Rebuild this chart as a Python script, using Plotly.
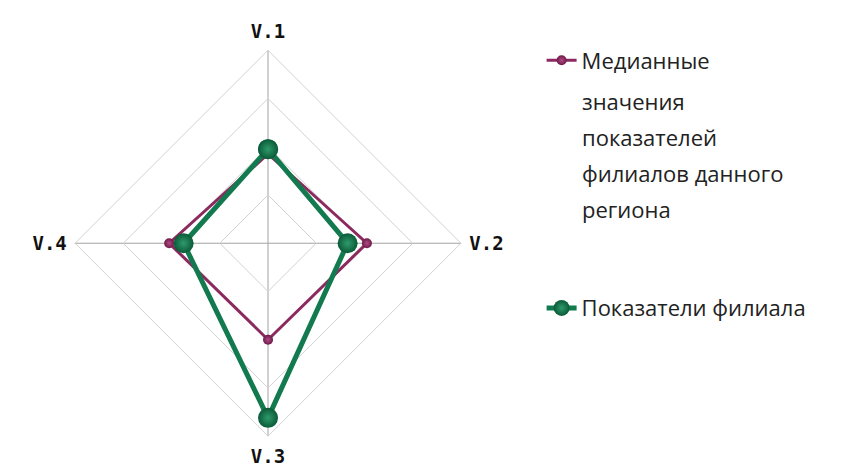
import plotly.graph_objects as go

# Оси и значения (оценены по картинке, шкала 0..4)
categorias = ["V.1", "V.2", "V.3", "V.4"]
mediana = [1.85, 2.05, 2.0, 2.05]
filial = [1.95, 1.65, 3.62, 1.75]

# Текст легенды: первая строка идёт в легенду, остальные - отдельными строками
lineas_mediana = ["Медианные", "значения", "показателей",
                  "филиалов данного", "региона"]
nombre_filial = "Показатели филиала"

H = 470
W = 847
fuente_leyenda = dict(family="Open Sans, sans-serif", size=22, color="#222222")


def cerrar(lista):
    # repetir el primer punto para cerrar el polígono
    return list(lista) + [lista[0]]


fig = go.Figure()

fig.add_trace(go.Scatterpolar(
    r=cerrar(mediana),
    theta=cerrar(categorias),
    mode="lines+markers",
    name=lineas_mediana[0],
    legendgroup="a",
    line=dict(color="#8c2a60", width=3),
    marker=dict(size=10, color="#6e1a48",
                gradient=dict(type="radial", color="#b04a85")),
))

fig.add_trace(go.Scatterpolar(
    r=cerrar(filial),
    theta=cerrar(categorias),
    mode="lines+markers",
    name=nombre_filial,
    legendgroup="b",
    line=dict(color="#137a4f", width=5),
    marker=dict(size=20, color="#0a5a37",
                gradient=dict(type="radial", color="#2f9a6c")),
))

# resto de las líneas del nombre de la mediana, con el interlineado del original
x_texto = 572 / W
y_primera = 57
paso = 36
for i, linea in enumerate(lineas_mediana[1:], start=1):
    fig.add_annotation(
        text=linea,
        xref="paper", yref="paper",
        x=x_texto, y=1 - (y_primera + paso * i) / H,
        xanchor="left", yanchor="middle",
        showarrow=False,
        font=fuente_leyenda,
    )

fig.update_layout(
    width=W,
    height=H,
    paper_bgcolor="white",
    plot_bgcolor="white",
    margin=dict(l=0, r=0, t=0, b=0),
    font=fuente_leyenda,
    polar=dict(
        domain=dict(x=[0.079, 0.535], y=[0.089, 0.910]),
        bgcolor="white",
        gridshape="linear",
        angularaxis=dict(
            rotation=90,
            direction="clockwise",
            categoryorder="array",
            categoryarray=categorias,
            showline=True,
            linecolor="#d2d2d2",
            linewidth=1,
            gridcolor="#a3a3a3",
            gridwidth=1,
            ticks="outside",
            ticklen=4,
            tickcolor="rgba(0,0,0,0)",
            tickfont=dict(family="DejaVu Sans Mono, monospace", size=19,
                          color="#111111", weight="bold"),
        ),
        radialaxis=dict(
            range=[0, 4],
            dtick=1,
            showticklabels=False,
            ticks="",
            showline=False,
            gridcolor="#d2d2d2",
            gridwidth=1,
        ),
    ),
    legend=dict(
        x=0.63,
        y=0.933,
        xanchor="left",
        yanchor="top",
        traceorder="grouped",
        tracegroupgap=216,
        valign="top",
        itemwidth=30,
        font=fuente_leyenda,
        bgcolor="rgba(0,0,0,0)",
    ),
    showlegend=True,
)

fig.write_html("out.html")
